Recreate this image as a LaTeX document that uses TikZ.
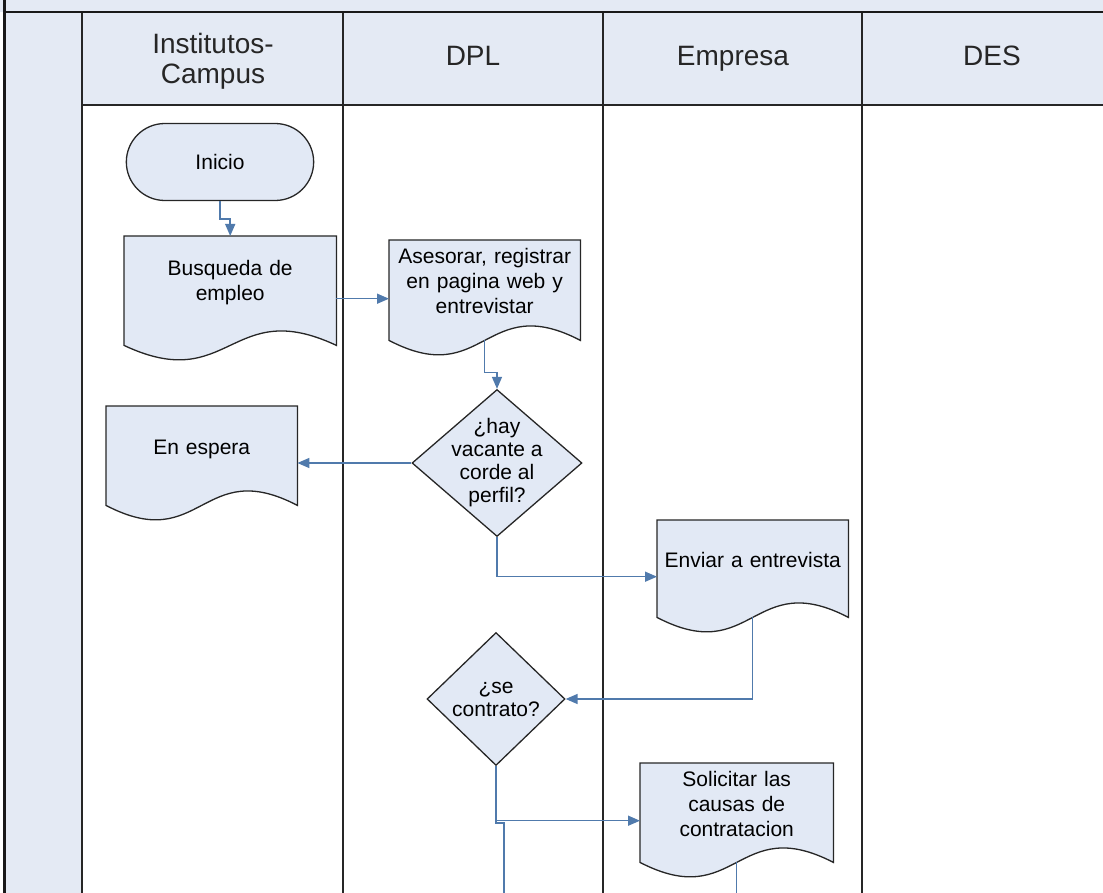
\documentclass[tikz,border=0pt]{standalone}
\usepackage{fontspec}
\setmainfont{Liberation Sans}
\usetikzlibrary{shapes.geometric,shapes.misc,arrows.meta,backgrounds,calc}

\definecolor{lanefill}{RGB}{228,234,244}
\definecolor{shapefill}{RGB}{226,233,245}
\definecolor{flowblue}{RGB}{80,122,172}

% document shape with the wavy bottom
\newcommand{\docshape}[1]{%
  \filldraw[docline] (#1.north west) -- (#1.north east) -- (#1.south east)
    .. controls ($(#1.south)+(0,-50)$) and ($(#1.south)+(0,50)$) .. (#1.south west) -- cycle;}

\begin{document}
\begin{tikzpicture}[x=1pt, y=-1pt,
    lane/.style={draw=black!85, line width=1.4pt},
    lanehead/.style={font=\fontsize{28}{30}\selectfont, align=center, text=black!85},
    terminal/.style={rounded rectangle, draw=black!85, line width=1.3pt, fill=shapefill,
        minimum width=194pt, minimum height=77pt, font=\fontsize{21}{25}\selectfont},
    docbox/.style={anchor=north west, inner sep=0pt, align=center, font=\fontsize{21}{25}\selectfont},
    docline/.style={draw=black!85, line width=1.3pt, fill=shapefill},
    decision/.style={diamond, draw=black!85, line width=1.3pt, fill=shapefill, inner sep=0pt},
    qtext/.style={font=\fontsize{21}{23}\selectfont, align=center},
    flow/.style={draw=flowblue, line width=1.5pt},
    arrow/.style={flow, -{Triangle[length=12pt,width=10pt]}}]

    \useasboundingbox (0,0) rectangle (1103,893);

    %lanes
    \fill[lanefill] (0,0) rectangle (1103,12);
    \fill[lanefill] (4,12) rectangle (82,893);
    \fill[lanefill] (82,12) rectangle (1103,105);
    \foreach \x in {82,343,603,862}
        \draw[lane] (\x,12) -- (\x,893);
    \draw[lane] (82,105) -- (1103,105);
    \draw[line width=2.6pt, black!90] (4.5,0) -- (4.5,893);
    \draw[line width=2.6pt, black!90] (3.2,12) -- (1103,12);

    \node[lanehead] (hinst) at (213,61) {Institutos-\\Campus};
    \node[lanehead, anchor=base] (hdpl) at (473,66) {DPL};
    \node[lanehead, anchor=base] (hemp) at (733,66) {Empresa};
    \node[lanehead, anchor=base] (hdes) at (992,66) {DES};

    %steps
    \node[terminal] (inicio) at (220,162) {Inicio};
    \node[docbox, text width=212pt, text height=39pt, text depth=70pt] (busq) at (124,236) {Busqueda de\\empleo};
    \node[docbox, text width=191pt, text height=23pt, text depth=77pt] (ases) at (389,240) {Asesorar, registrar\\en pagina web y\\entrevistar};
    \node[decision, minimum width=170pt, minimum height=147pt,
        label={[qtext]center:{¿hay\\vacante a\\corde al\\perfil?}}] (dia1) at (497,463) {};
    \node[docbox, text width=191pt, text height=48pt, text depth=51pt] (espera) at (106,406) {En espera};
    \node[docbox, text width=191pt, text height=47pt, text depth=50pt] (enviar) at (657,520) {Enviar a entrevista};
    \node[decision, minimum width=138pt, minimum height=133pt,
        label={[qtext]center:{¿se\\contrato?}}] (dia2) at (496,699) {};
    \node[docbox, text width=193pt, text height=23pt, text depth=76pt] (solic) at (640,763) {Solicitar las\\causas de\\contratacion};

    \begin{scope}[on background layer]
        \foreach \n in {busq,ases,espera,enviar,solic}
            \docshape{\n};
    \end{scope}

    %connectors
    \draw[arrow] (inicio.south) -- ++(0,18) -| (busq.north);
    \draw[arrow] ([yshift=-8pt]busq.east) -- ([yshift=-8pt]busq.east -| ases.west);
    \draw[arrow] (ases.south) -- ++(0,32) -| (dia1.north);
    \draw[arrow] (dia1.west) -- (dia1.west -| espera.east);
    \draw[arrow] (dia1.south) |- ([yshift=-8pt]enviar.west);
    \draw[arrow] (enviar.south) |- (dia2.east);
    \draw[arrow] (dia2.south) |- ([yshift=-8pt]solic.west);
    \coordinate (cut1) at (504,893);
    \draw[flow] (dia2.south) -- ++(0,57) -| (cut1);
    \draw[flow] (solic.south) -- (solic.south |- cut1);
\end{tikzpicture}
\end{document}
